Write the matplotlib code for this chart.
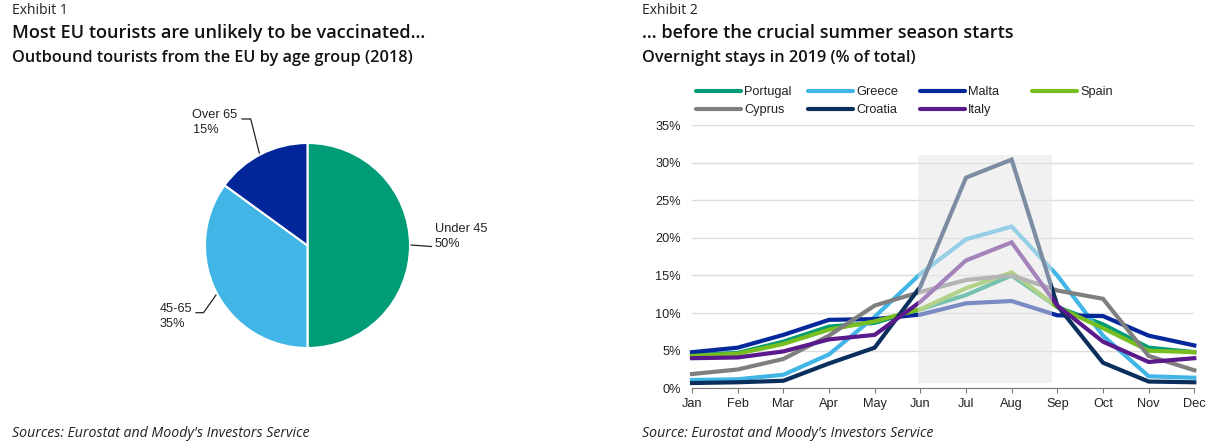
import matplotlib
matplotlib.use("Agg")

import matplotlib.pyplot as plt
from matplotlib.lines import Line2D

W, H = 1226, 448

# exhibit 1
age_groups = ["Under 45", "45-65", "Over 65"]
age_shares = [50, 35, 15]
age_colors = ["#009B77", "#41B6E6", "#00269A"]

# exhibit 2
months = ["Jan", "Feb", "Mar", "Apr", "May", "Jun", "Jul", "Aug", "Sep", "Oct", "Nov", "Dec"]
portugal = [4.4, 4.7, 6.2, 8.2, 8.7, 10.5, 12.4, 15.0, 10.8, 8.5, 5.4, 4.8]
greece = [1.1, 1.2, 1.8, 4.5, 9.5, 15.2, 19.8, 21.5, 15.0, 7.0, 1.6, 1.4]
malta = [4.8, 5.4, 7.1, 9.1, 9.2, 9.8, 11.3, 11.6, 9.7, 9.6, 7.0, 5.7]
spain = [4.3, 4.6, 5.9, 7.8, 8.9, 10.5, 13.3, 15.4, 10.8, 8.0, 5.0, 4.8]
cyprus = [1.9, 2.5, 3.9, 7.0, 11.0, 12.8, 14.4, 15.0, 13.0, 11.9, 4.3, 2.4]
croatia = [0.7, 0.8, 1.0, 3.3, 5.4, 13.5, 28.0, 30.4, 11.0, 3.4, 0.9, 0.8]
italy = [4.0, 4.1, 4.9, 6.5, 7.1, 11.5, 17.0, 19.4, 11.0, 6.2, 3.5, 4.0]
yticks = [0, 5, 10, 15, 20, 25, 30, 35]

series = [
    ("Portugal", portugal, "#009B77"),
    ("Greece", greece, "#41B6E6"),
    ("Malta", malta, "#05299B"),
    ("Spain", spain, "#78BE20"),
    ("Cyprus", cyprus, "#7F7F7F"),
    ("Croatia", croatia, "#0A2F5C"),
    ("Italy", italy, "#5B1A8B"),
]

HEAD = "Open Sans"
BODY = "Liberation Sans"


def px_axes(fig, left, top, right, bottom):
    """Axes placed by reference pixel edges."""
    return fig.add_axes([left / W, 1 - bottom / H, (right - left) / W, (bottom - top) / H])


def fig_text(fig, x, y, s, **kw):
    fig.text(x / W, 1 - y / H, s, va="center", **kw)


def fig_line(fig, xs, ys, **kw):
    fig.add_artist(Line2D([x / W for x in xs], [1 - y / H for y in ys], **kw))


fig = plt.figure(figsize=(W / 100, H / 100), dpi=100)

# headings
for x0, exhibit, title, sub, src in [
    (12, "Exhibit 1", "Most EU tourists are unlikely to be vaccinated...",
     "Outbound tourists from the EU by age group (2018)",
     "Sources: Eurostat and Moody's Investors Service"),
    (642, "Exhibit 2", "... before the crucial summer season starts",
     "Overnight stays in 2019 (% of total)",
     "Source: Eurostat and Moody's Investors Service"),
]:
    fig_text(fig, x0, 10, exhibit, family=HEAD, fontsize=10, color="#222222")
    fig_text(fig, x0, 33, title, family=HEAD, fontsize=13.1, weight=600, color="#111111")
    fig_text(fig, x0, 58, sub, family=HEAD, fontsize=11.7, weight=600, color="#111111")
    fig_text(fig, x0, 433, src, family=HEAD, fontsize=10.2, style="italic", color="#222222")

# pie
ax_pie = px_axes(fig, 205, 143, 410, 348)
ax_pie.pie(age_shares, colors=age_colors, startangle=90, counterclock=False,
           wedgeprops={"edgecolor": "white", "linewidth": 1.5}, radius=1.0)
ax_pie.set_xlim(-1.0, 1.0)
ax_pie.set_ylim(-1.0, 1.0)

# pie labels + leader lines
for name, share, tx, ty in zip(age_groups, age_shares, [435, 159.5, 192.5], [236.5, 316.5, 122.5]):
    fig_text(fig, tx, ty, f"{name}\n{share}%", family=BODY, fontsize=9.2, color="#222222",
             linespacing=1.35)
for xs, ys in [([411, 431.5], [245, 246.5]), ([196, 203.5, 216], [312.7, 312.7, 295]),
               ([242, 250.7, 259.3], [119, 119, 153])]:
    fig_line(fig, xs, ys, color="#222222", lw=0.9)

# line chart
ax = px_axes(fig, 692, 125, 1194.3, 388.3)
ax.set_xlim(0, 11)
ax.set_ylim(0, 35)
for name, vals, color in series:
    ax.plot(range(12), vals, color=color, lw=3.0, solid_joinstyle="miter",
            clip_on=False, zorder=3)
# summer band sits over the lines and washes them out
ax.axvspan(4.94, 7.89, ymin=0.7 / 35, ymax=31.0 / 35, facecolor="#E6E5E6", alpha=0.52,
           edgecolor="none", zorder=4)

ax.set_xticks(range(12))
ax.set_xticklabels(months)
ax.set_yticks(yticks)
ax.set_yticklabels([f"{v}%" for v in yticks])
ax.grid(axis="y", color="#DDDDDD", lw=1.0)
ax.set_axisbelow(True)
for side in ["top", "right", "left"]:
    ax.spines[side].set_visible(False)
ax.spines["bottom"].set_color("#777777")
ax.tick_params(axis="x", length=3.5, color="#777777", labelsize=9.2, pad=3.5, labelcolor="#222222")
ax.tick_params(axis="y", length=0, labelsize=9.2, pad=8, labelcolor="#222222")
for lab in ax.get_xticklabels() + ax.get_yticklabels():
    lab.set_fontfamily(BODY)

# legend keys laid out by row, the way the reference reads
legend_x = [695, 807, 919, 1031]
legend_y = [91, 109]
for i, (name, _, color) in enumerate(series):
    lx, ly = legend_x[i % 4], legend_y[i // 4]
    fig_line(fig, [lx + 1, lx + 46], [ly, ly], color=color, lw=3.0, solid_capstyle="round")
    fig_text(fig, lx + 49, ly + 1, name, family=BODY, fontsize=9.2, color="#222222")

fig.savefig("out.png", dpi=100)
plt.close(fig)
